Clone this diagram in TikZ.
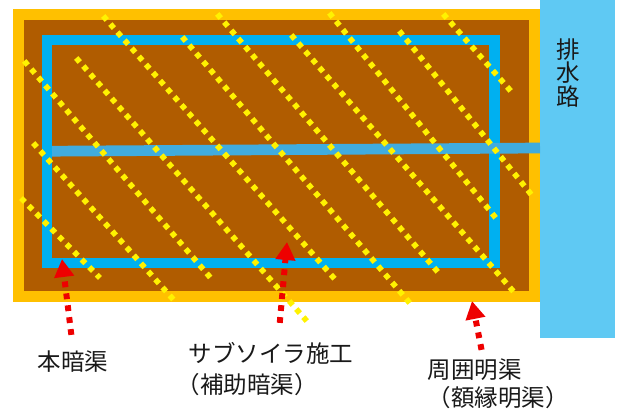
\documentclass[tikz,border=0pt]{standalone}
\usepackage{fontspec}
\setmainfont{Noto Sans CJK JP}
\usetikzlibrary{arrows.meta}
\definecolor{rimorange}{HTML}{FFC000}
\definecolor{soilbrown}{HTML}{B05C00}
\definecolor{drainblue}{HTML}{00B0F0}
\definecolor{mainblue}{HTML}{41ACDE}
\definecolor{outletblue}{HTML}{5FC9F3}
\definecolor{arrowred}{HTML}{EE0000}
\tikzset{
  subsoil/.style={draw=yellow,line width=5.6pt,dash pattern=on 5.4pt off 5.37pt,shorten <=-2.7pt,shorten >=-2.7pt},
  callout/.style={draw=arrowred,line width=6pt,dash pattern=on 5.8pt off 6.2pt,shorten <=-2.9pt,
    -{Triangle[length=18pt,width=19pt,fill=arrowred,sep=0pt]}},
  label/.style={inner sep=0pt,font=\fontsize{23.5pt}{24pt}\selectfont,text=black!90}
}
\begin{document}
\begin{tikzpicture}[x=1pt,y=-1pt]
\useasboundingbox (0,0) rectangle (620,410);
\fill[rimorange] (13,9) rectangle (540,302);
\fill[soilbrown] (24,20) rectangle (529.3,291);
\draw[drainblue,line width=10.6pt] (47,40) rectangle (494.7,263);
\fill[outletblue] (540,0) rectangle (615,338.3);
\draw[mainblue,line width=10.7pt] (52,151.2) -- (540,148);
% subsoil lines
\draw[subsoil] (23,200) -- (98,276);
\draw[subsoil] (35,145) -- (172,298);
\draw[subsoil] (26,63) -- (209,276);
\draw[subsoil] (78,60) -- (305,319);
\draw[subsoil] (105,18) -- (333,277);
\draw[subsoil] (184,39) -- (408,301);
\draw[subsoil] (219,16) -- (437,271);
\draw[subsoil] (293,37) -- (513,291);
\draw[subsoil] (331,15) -- (495,217);
\draw[subsoil] (401,33) -- (530,193);
\draw[subsoil] (445,16) -- (509,89);
% labels
\node[label,align=center] (outlet) at (568,73) {排\\[-0.5pt]水\\[-0.5pt]路};
\node[label] (honan) at (73,362) {本暗渠};
\node[label] (subsoiler) at (271,353) {サブソイラ施工};
\node[label] (hojo) at (247,385) {（補助暗渠）};
\node[label] (shui) at (474.5,370) {周囲明渠};
\node[label] (gaku) at (498,398) {（額縁明渠）};
% callouts
\coordinate (a1s) at (71,332); \coordinate (a1e) at (62,259);
\coordinate (a2s) at (280,320); \coordinate (a2e) at (287,242);
\coordinate (a3s) at (481,347); \coordinate (a3e) at (472,301);
\draw[callout] (a1s) -- (a1e);
\draw[callout] (a2s) -- (a2e);
\draw[callout] (a3s) -- (a3e);
\end{tikzpicture}
\end{document}
